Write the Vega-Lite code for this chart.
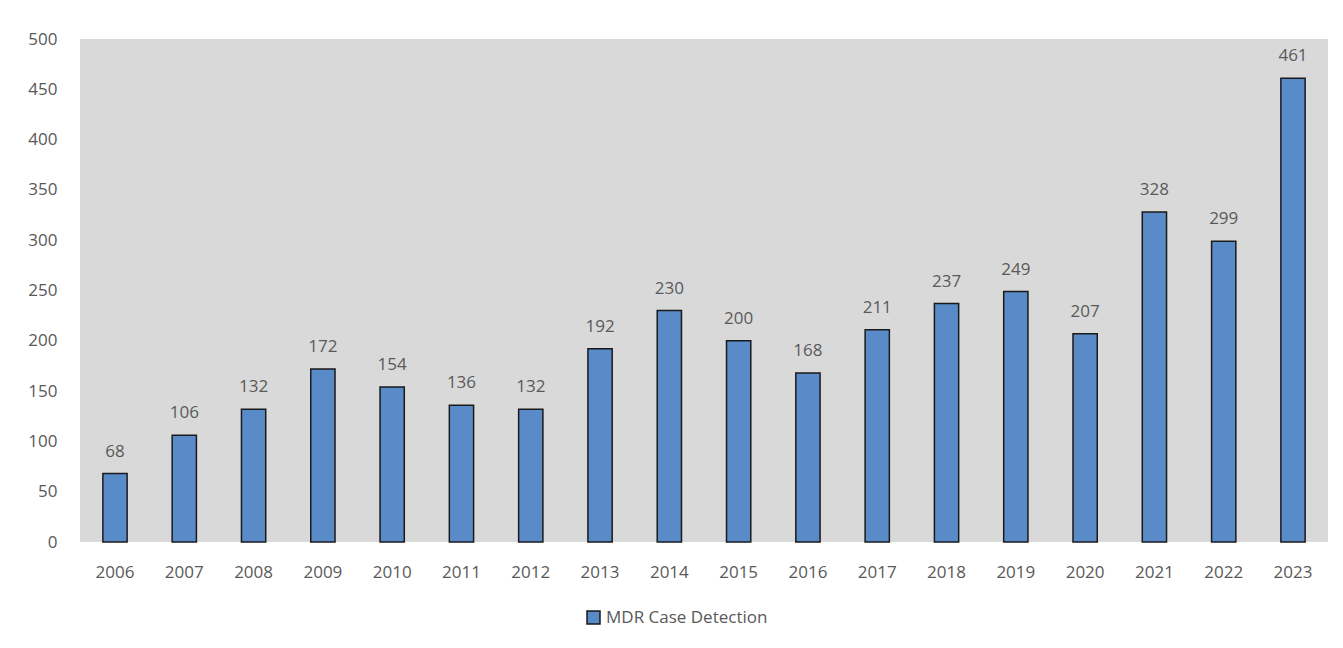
{
  "$schema": "https://vega.github.io/schema/vega-lite/v6.json",
  "autosize": "none",
  "width": 1248,
  "height": 503,
  "padding": {"left": 80, "top": 39, "right": 15, "bottom": 106},
  "background": "white",
  "config": {
    "view": {"fill": "#D9D9D9", "stroke": null},
    "font": "Open Sans"
  },
  "data": {
    "values": [
      {"year": "2006", "cases": 68, "series": "MDR Case Detection"},
      {"year": "2007", "cases": 106, "series": "MDR Case Detection"},
      {"year": "2008", "cases": 132, "series": "MDR Case Detection"},
      {"year": "2009", "cases": 172, "series": "MDR Case Detection"},
      {"year": "2010", "cases": 154, "series": "MDR Case Detection"},
      {"year": "2011", "cases": 136, "series": "MDR Case Detection"},
      {"year": "2012", "cases": 132, "series": "MDR Case Detection"},
      {"year": "2013", "cases": 192, "series": "MDR Case Detection"},
      {"year": "2014", "cases": 230, "series": "MDR Case Detection"},
      {"year": "2015", "cases": 200, "series": "MDR Case Detection"},
      {"year": "2016", "cases": 168, "series": "MDR Case Detection"},
      {"year": "2017", "cases": 211, "series": "MDR Case Detection"},
      {"year": "2018", "cases": 237, "series": "MDR Case Detection"},
      {"year": "2019", "cases": 249, "series": "MDR Case Detection"},
      {"year": "2020", "cases": 207, "series": "MDR Case Detection"},
      {"year": "2021", "cases": 328, "series": "MDR Case Detection"},
      {"year": "2022", "cases": 299, "series": "MDR Case Detection"},
      {"year": "2023", "cases": 461, "series": "MDR Case Detection"}
    ]
  },
  "encoding": {
    "x": {
      "field": "year", "type": "nominal", "sort": null,
      "scale": {"paddingInner": 0.65, "paddingOuter": 0.33},
      "axis": {"title": null, "labelAngle": 0, "domain": false, "ticks": false, "labelFontSize": 17, "labelColor": "#595959", "labelPadding": 22, "labelFont": "Open Sans"}
    },
    "y": {
      "field": "cases", "type": "quantitative",
      "scale": {"domain": [0, 500], "nice": false},
      "axis": {"title": null, "values": [0, 50, 100, 150, 200, 250, 300, 350, 400, 450, 500], "domain": false, "ticks": false, "grid": false, "labelFontSize": 17, "labelColor": "#595959", "labelPadding": 23, "labelFont": "Open Sans"}
    }
  },
  "layer": [
    {
      "mark": {"type": "bar", "stroke": "#1a1a1a", "strokeWidth": 1.5},
      "encoding": {
        "fill": {
          "field": "series", "type": "nominal",
          "scale": {"range": ["#598BC9"]},
          "legend": {"title": null, "orient": "none", "legendX": 505, "legendY": 570, "direction": "horizontal", "symbolType": "square", "symbolSize": 169, "symbolStrokeColor": "#1a1a1a", "symbolStrokeWidth": 1.5, "labelFontSize": 17, "labelColor": "#595959", "labelFont": "Open Sans", "labelOffset": 4, "labelLimit": 400}
        }
      }
    },
    {
      "mark": {"type": "text", "baseline": "bottom", "dy": -13, "fontSize": 17, "color": "#595959", "font": "Open Sans"},
      "encoding": {"text": {"field": "cases", "type": "quantitative"}}
    }
  ]
}
